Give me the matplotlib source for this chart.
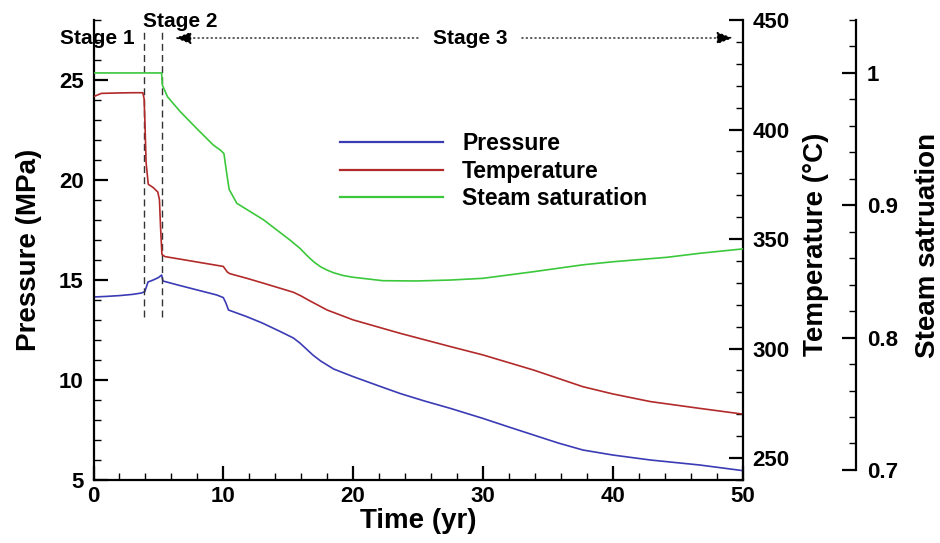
import numpy as np
import matplotlib
matplotlib.use("Agg")
import matplotlib.pyplot as plt
from matplotlib.ticker import MultipleLocator, FixedLocator, FuncFormatter

# ---------------- data ----------------
t_p = [0, 1, 2, 3, 3.7, 3.95, 4.2, 4.6, 5.0, 5.25, 5.35, 6.5, 8, 9.5, 10.0, 10.2, 10.4,
       11.8, 13.0, 14.4, 15.4, 15.9, 16.4, 16.9, 17.5, 18.5, 20, 22, 23.6, 25.5, 27.5,
       30, 32, 33.9, 35.8, 37.7, 40, 42.9, 46.7, 50]
pressure = [14.15, 14.18, 14.22, 14.28, 14.35, 14.42, 14.9, 15.0, 15.12, 15.25, 14.95,
            14.75, 14.5, 14.25, 14.12, 13.85, 13.5, 13.17, 12.85, 12.42, 12.1, 11.85,
            11.55, 11.25, 10.95, 10.55, 10.17, 9.7, 9.33, 8.95, 8.58, 8.08, 7.65, 7.25,
            6.85, 6.5, 6.25, 6.0, 5.75, 5.47]

t_T = [0, 0.6, 2, 3, 3.8, 3.9, 3.97, 4.05, 4.22, 4.6, 4.95, 5.08, 5.17, 5.27, 5.5, 7,
       8.5, 10.0, 10.3, 10.5, 11.8, 13.0, 14.4, 15.4, 16.0, 16.6, 17.3, 18.0, 20, 23.6,
       27.5, 30, 33.9, 37.7, 40, 42.9, 46.7, 50]
temperature = [415.0, 416.5, 416.7, 416.8, 416.8, 414, 402, 385, 375, 373.5, 371.5,
               368, 355, 343, 342, 340.5, 339, 337.5, 335, 334.2, 332.1, 330, 327.5,
               325.7, 324.0, 322.0, 319.8, 317.6, 313.1, 307.0, 300.9, 297.1, 290.2,
               282.6, 279.3, 275.8, 272.7, 270.1]

t_S = [0, 5.25, 5.3, 5.7, 6.66, 7.95, 9.23, 9.8, 10.05, 10.25, 10.45, 11.04, 13.1, 15.1,
       15.9, 16.5, 17.0, 17.5, 18.0, 18.5, 19.2, 20, 22.3, 24.9, 27.5, 30, 33.9, 37.7,
       40, 44.2, 46.7, 50]
saturation = [1.0, 1.0, 0.991, 0.982, 0.971, 0.958, 0.9455, 0.9415, 0.939, 0.925, 0.912,
              0.9015, 0.889, 0.874, 0.8675, 0.8615, 0.857, 0.8535, 0.851, 0.849, 0.847,
              0.8456, 0.843, 0.8428, 0.8435, 0.8448, 0.8498, 0.855, 0.8573, 0.8607,
              0.8637, 0.867]

series_labels = ["Pressure", "Temperature", "Steam saturation"]
stage_bounds = [3.9, 5.28]
stage_labels = ["Stage 1", "Stage 2", "Stage 3"]

x_ticks = [0, 10, 20, 30, 40, 50]
p_ticks = [5, 10, 15, 20, 25]
T_ticks = [250, 300, 350, 400, 450]
S_ticks = [0.7, 0.8, 0.9, 1.0]

# ---------------- style ----------------
plt.rcParams['font.family'] = ['Liberation Sans', 'DejaVu Sans']
plt.rcParams['font.weight'] = 'bold'
plt.rcParams['axes.labelweight'] = 'bold'

c_p = '#3b3bb5'
c_T = '#b22a2a'
c_S = '#3cc83c'

W, H = 940, 543
fig = plt.figure(figsize=(W / 100, H / 100), dpi=100)
ax_left, ax_right, ax_top, ax_bot = 93.5, 742.5, 20, 480
ax = fig.add_axes([ax_left / W, (H - ax_bot) / H, (ax_right - ax_left) / W, (ax_bot - ax_top) / H])
ax2 = ax.twinx()
ax3 = ax.twinx()

lw = 1.2
l1, = ax.plot(t_p, pressure, color=c_p, lw=lw)
l2, = ax2.plot(t_T, temperature, color=c_T, lw=lw)
l3, = ax3.plot(t_S, saturation, color=c_S, lw=lw)

ax.set_xlim(0, 50)
ax.set_ylim(5, 28)
ax2.set_ylim(240, 450)
ax3.set_ylim(0.6924, 1.04)

spine_w = 1.6
for a in (ax, ax2, ax3):
    for s in a.spines.values():
        s.set_linewidth(spine_w)
    a.spines['top'].set_visible(False)
ax.spines['right'].set_visible(False)
for a in (ax2, ax3):
    a.spines['left'].set_visible(False)
    a.spines['bottom'].set_visible(False)
ax3.spines['right'].set_position(('axes', (855.7 - ax_left) / (ax_right - ax_left)))
ax3.spines['right'].set_bounds(0.7, 1.04)

# ticks
ax.xaxis.set_major_locator(FixedLocator(x_ticks))
ax.xaxis.set_minor_locator(MultipleLocator(2))
ax.yaxis.set_major_locator(FixedLocator(p_ticks))
ax.yaxis.set_minor_locator(MultipleLocator(1))
ax2.yaxis.set_major_locator(FixedLocator(T_ticks))
ax2.yaxis.set_minor_locator(MultipleLocator(10))
ax3.yaxis.set_major_locator(FixedLocator(S_ticks))
ax3.yaxis.set_minor_locator(FixedLocator(list(np.round(np.arange(0.72, 1.041, 0.02), 2))))
ax3.yaxis.set_major_formatter(FuncFormatter(lambda v, pos: f"{v:g}"))

fs_tick = 16
ax.tick_params(axis='x', which='both', direction='in', top=False, labelsize=fs_tick, pad=4)
ax.tick_params(axis='y', which='both', direction='in', right=False, labelsize=fs_tick, pad=7)
ax2.tick_params(axis='y', which='both', direction='in', labelsize=fs_tick, pad=7)
ax3.tick_params(axis='y', which='both', direction='in', labelsize=fs_tick, pad=8)
for a in (ax, ax2, ax3):
    a.tick_params(which='major', length=10, width=1.6)
    a.tick_params(which='minor', length=5, width=1.0)

fs_lab = 20
ax.set_xlabel("Time (yr)", fontsize=fs_lab, fontweight='bold', labelpad=1)
ax.set_ylabel("Pressure (MPa)", fontsize=fs_lab, fontweight='bold', va='center')
ax.yaxis.set_label_coords((29 - ax_left) / (ax_right - ax_left), 0.5)
ax2.set_ylabel("Temperature (°C)", fontsize=fs_lab, fontweight='bold', va='center')
ax2.yaxis.set_label_coords((816 - ax_left) / (ax_right - ax_left), (ax_bot - 244) / (ax_bot - ax_top))
ax3.set_ylabel("Steam satruation", fontsize=fs_lab, fontweight='bold', va='center')
ax3.yaxis.set_label_coords((928 - ax_left) / (ax_right - ax_left), (ax_bot - 245) / (ax_bot - ax_top))

# stage markers
ax.vlines(stage_bounds, 13.15, 27.4, colors='#333333', linestyles=(0, (5, 3)), lw=1.0)
fs_stage = 15
ax.text(0.3, 26.8, stage_labels[0], fontsize=fs_stage, fontweight='bold', ha='center', va='baseline')
ax.text(6.66, 27.67, stage_labels[1], fontsize=fs_stage, fontweight='bold', ha='center', va='baseline')
ax.text(29.0, 27.1, stage_labels[2], fontsize=fs_stage, fontweight='bold', ha='center', va='center')
arrow_kw = dict(arrowstyle='-|>,head_length=1.0,head_width=0.38', color='black', lw=0.9,
                linestyle=(0, (1, 2.5)), shrinkA=0, shrinkB=0)
ax.annotate('', xy=(6.28, 27.1), xytext=(25.0, 27.1), arrowprops=arrow_kw, annotation_clip=False)
ax.annotate('', xy=(49.27, 27.1), xytext=(33.0, 27.1), arrowprops=arrow_kw, annotation_clip=False)

# legend
fs_leg = 16.5
leg = ax3.legend([l1, l2, l3], series_labels, loc='upper left',
                 bbox_to_anchor=(340 / W, (H - 132) / H), bbox_transform=fig.transFigure,
                 frameon=False, fontsize=fs_leg, handlelength=4.5, handletextpad=0.83,
                 labelspacing=0.2, borderpad=0, borderaxespad=0)
for h in leg.get_lines():
    h.set_linewidth(1.6)

fig.savefig("out.png", dpi=100)
